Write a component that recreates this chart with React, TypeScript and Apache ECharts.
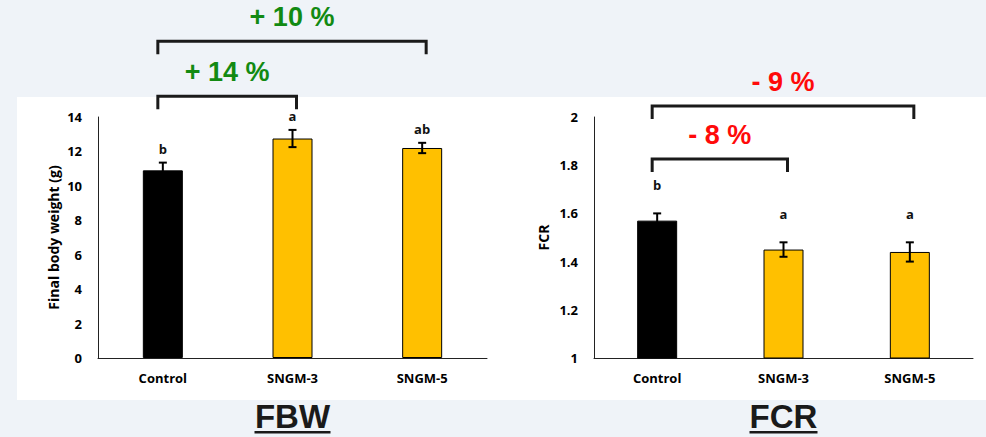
import React, { useEffect, useRef } from "react";
import * as echarts from "echarts";

const categories = ["Control", "SNGM-3", "SNGM-5"];
const fbwValues = [10.9, 12.75, 12.2];
const fbwErrors = [0.45, 0.5, 0.3];
const fbwLetters = ["b", "a", "ab"];
const fcrValues = [1.57, 1.45, 1.44];
const fcrErrors = [0.03, 0.03, 0.04];
const fcrLetters = ["b", "a", "a"];
const fbwAxis = { min: 0, max: 14, interval: 2 };
const fcrAxis = { min: 1, max: 2, interval: 0.2 };
const barColors = ["#000000", "#ffc000", "#ffc000"];
// comparison brackets: [fromCategory, toCategory, level in axis units, label]
const fbwBrackets: [number, number, number, string][] = [
  [0, 1, 15.2, "+ 14 %"],
  [0, 2, 18.4, "+ 10 %"],
];
const fcrBrackets: [number, number, number, string][] = [
  [0, 1, 1.826, "- 8 %"],
  [0, 2, 2.046, "- 9 %"],
];
const panelTitles = ["FBW", "FCR"];

const LABEL_FONT = "'Open Sans', Lato, sans-serif";
const BIG_FONT = "'Liberation Sans', Arial, sans-serif";

function errorSeries(axisIndex: number, values: number[], errors: number[], letters: string[], letterGap: number) {
  return {
    type: "custom",
    xAxisIndex: axisIndex,
    yAxisIndex: axisIndex,
    z: 5,
    data: values.map((v, i) => [i, v, errors[i]]),
    renderItem: (params: any, api: any) => {
      const i = api.value(0);
      const v = api.value(1);
      const e = api.value(2);
      const hi = api.coord([i, v + e]);
      const lo = api.coord([i, v - e]);
      const cap = 4;
      const ls = { stroke: "#000", lineWidth: 2 };
      return {
        type: "group",
        children: [
          { type: "line", shape: { x1: hi[0], y1: hi[1], x2: lo[0], y2: lo[1] }, style: ls },
          { type: "line", shape: { x1: hi[0] - cap, y1: hi[1], x2: hi[0] + cap, y2: hi[1] }, style: ls },
          { type: "line", shape: { x1: lo[0] - cap, y1: lo[1], x2: lo[0] + cap, y2: lo[1] }, style: ls },
          {
            type: "text",
            x: hi[0],
            y: hi[1] - letterGap,
            style: {
              text: letters[params.dataIndex],
              font: `bold 13px ${LABEL_FONT}`,
              fill: "#111",
              align: "center",
              verticalAlign: "middle",
              textAlign: "center",
              textVerticalAlign: "middle",
            },
          },
        ],
      };
    },
  };
}

export default function App() {
  const ref = useRef<HTMLDivElement>(null);
  useEffect(() => {
    if (!ref.current) return;
    const chart = echarts.init(ref.current, null, { renderer: "svg" });
    const axisLabel = { color: "#000", fontWeight: "bold", fontSize: 13, fontFamily: LABEL_FONT };
    const xAxisBase = {
      type: "category",
      data: categories,
      axisTick: { show: false },
      axisLine: { lineStyle: { color: "#222", width: 1 } },
      axisLabel: { ...axisLabel, margin: 13 },
    };
    const yAxisBase = {
      type: "value",
      splitLine: { show: false },
      axisTick: { show: false },
      axisLine: { show: true, lineStyle: { color: "#222", width: 1 } },
      axisLabel: { ...axisLabel, margin: 16 },
      nameLocation: "middle",
      nameTextStyle: { color: "#000", fontWeight: "bold", fontSize: 14, fontFamily: LABEL_FONT },
    };
    const barData = (vals: number[]) =>
      vals.map((v, i) => ({ value: v, itemStyle: { color: barColors[i], borderColor: "#000", borderWidth: 1 } }));

    chart.setOption({
      animation: false,
      backgroundColor: "#eff3f8",
      grid: [
        { left: 98, right: 499, top: 117, bottom: 79 },
        { left: 594, right: 13, top: 117, bottom: 79 },
      ],
      xAxis: [
        { ...xAxisBase, gridIndex: 0 },
        { ...xAxisBase, gridIndex: 1 },
      ],
      yAxis: [
        { ...yAxisBase, gridIndex: 0, ...fbwAxis, name: "Final body weight (g)", nameGap: 38 },
        { ...yAxisBase, gridIndex: 1, ...fcrAxis, name: "FCR", nameGap: 44 },
      ],
      series: [
        { type: "bar", xAxisIndex: 0, yAxisIndex: 0, barWidth: 40, data: barData(fbwValues) },
        { type: "bar", xAxisIndex: 1, yAxisIndex: 1, barWidth: 40, data: barData(fcrValues) },
        errorSeries(0, fbwValues, fbwErrors, fbwLetters, 14),
        errorSeries(1, fcrValues, fcrErrors, fcrLetters, 28),
      ],
    });

    const graphics: any[] = [
      { type: "rect", z: -10, silent: true, shape: { x: 17, y: 97, width: 969, height: 303 }, style: { fill: "#ffffff" } },
    ];
    const addBrackets = (axisIndex: number, brackets: [number, number, number, string][], color: string) => {
      brackets.forEach(([a, b, level, label]) => {
        const x1 = (chart.convertToPixel({ xAxisIndex: axisIndex } as any, categories[a]) as number) - 5;
        const x2 = (chart.convertToPixel({ xAxisIndex: axisIndex } as any, categories[b]) as number) + 4;
        const y = chart.convertToPixel({ yAxisIndex: axisIndex } as any, level) as number;
        graphics.push({
          type: "polyline",
          z: 10,
          shape: { points: [[x1, y + 13], [x1, y], [x2, y], [x2, y + 13]] },
          style: { stroke: "#1a1a1a", lineWidth: 3, fill: null },
        });
        graphics.push({
          type: "text",
          z: 10,
          x: (x1 + x2) / 2,
          y: y - 24,
          style: {
            text: label,
            font: `bold 27px ${BIG_FONT}`,
            fill: color,
            align: "center",
            verticalAlign: "middle",
            textAlign: "center",
            textVerticalAlign: "middle",
          },
        });
      });
    };
    addBrackets(0, fbwBrackets, "#128a12");
    addBrackets(1, fcrBrackets, "#ff0a0a");

    [0, 1].forEach((gi) => {
      const xa = chart.convertToPixel({ xAxisIndex: gi } as any, categories[0]) as number;
      const xc = chart.convertToPixel({ xAxisIndex: gi } as any, categories[2]) as number;
      const cx = (xa + xc) / 2;
      graphics.push({
        type: "text",
        z: 10,
        x: cx,
        y: 416,
        style: {
          text: panelTitles[gi],
          font: `bold 33px ${BIG_FONT}`,
          fill: "#1a1a1a",
          align: "center",
          verticalAlign: "middle",
          textAlign: "center",
          textVerticalAlign: "middle",
        },
      });
      const w = gi === 0 ? 76 : 68;
      graphics.push({
        type: "rect",
        z: 10,
        shape: { x: cx - w / 2, y: 431, width: w, height: 2.5 },
        style: { fill: "#1a1a1a" },
      });
    });

    chart.setOption({ graphic: graphics });
    return () => chart.dispose();
  }, []);
  return (
    <div
      ref={ref}
      style={{ position: "fixed", left: 0, top: 0, width: 986, height: 437 }}
    />
  );
}
